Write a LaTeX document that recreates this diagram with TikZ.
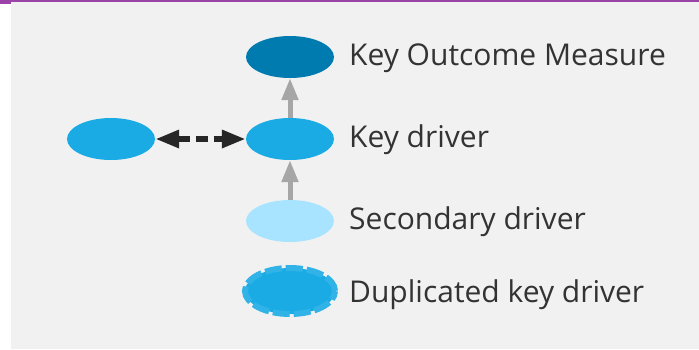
\documentclass[tikz,border=0pt]{standalone}
\usepackage{fontspec}
\setmainfont{Open Sans}
\usetikzlibrary{arrows.meta, positioning, shapes.geometric}
\definecolor{outcome}{HTML}{007BB0}
\definecolor{driver}{HTML}{1AABE4}
\definecolor{secondary}{HTML}{A8E4FF}
\definecolor{panel}{HTML}{F1F1F1}
\definecolor{frame}{HTML}{9B44A8}
\definecolor{linkgray}{HTML}{A6A6A6}
\definecolor{labeltext}{HTML}{333333}

\begin{document}
\begin{tikzpicture}[
    x=1pt, y=-1pt,
    every node/.style={font=\fontsize{30}{34}\selectfont},
    bubble/.style={ellipse, draw=none, minimum width=88pt, minimum height=42pt, inner sep=0pt},
    dupbubble/.style={bubble, draw=driver!90!white, line width=6pt, dash pattern=on 17pt off 4pt, minimum width=90pt, minimum height=46pt},
    legend/.style={anchor=base west, text=labeltext, inner sep=0pt},
    upflow/.style={-{Triangle[length=22pt, width=16pt]}, line width=5pt, color=linkgray},
    link/.style={{Triangle[length=24pt, width=17pt]}-{Triangle[length=24pt, width=17pt]}, line width=6pt, color=black!85, dash pattern=on 12pt off 6pt}
]
\useasboundingbox (0,0) rectangle (699,349);
% Panel and top rule
\fill[panel] (11,2) rectangle (699,349);
\fill[frame] (0,0) rectangle (699,2);
\fill[frame] (0,0) rectangle (11,3.5);

% Bubbles
\node[bubble, fill=outcome] (kom) at (290,57) {};
\node[bubble, fill=driver] (kd) at (290,139) {};
\node[bubble, fill=driver] (peer) at (111,139) {};
\node[bubble, fill=secondary] (sd) at (290,221) {};
\node[dupbubble, fill=driver] (dup) at (290,291) {};

% Labels
\node[legend] (komlab) at (349,65) {Key Outcome Measure};
\node[legend] (kdlab) at (349,147) {Key driver};
\node[legend] (sdlab) at (349,229) {Secondary driver};
\node[legend] (duplab) at (349,302) {Duplicated key driver};

% Connectors
\draw[upflow] (kd.north) -- (kom.south);
\draw[upflow] (sd.north) -- (kd.south);
\draw[link] (peer.east) -- (kd.west);
\end{tikzpicture}
\end{document}
